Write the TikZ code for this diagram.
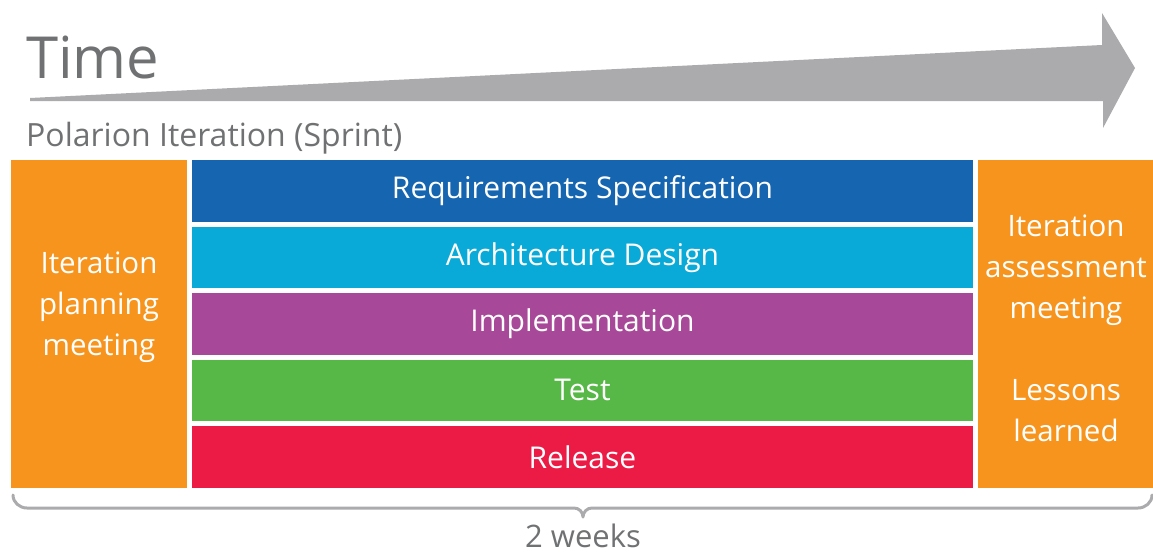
\documentclass[tikz,border=0pt]{standalone}
\usepackage{fontspec}
\setmainfont{Open Sans}
\definecolor{reqblue}{HTML}{1565B0}
\definecolor{archcyan}{HTML}{0AAAD8}
\definecolor{implpurple}{HTML}{A84898}
\definecolor{testgreen}{HTML}{58B847}
\definecolor{relred}{HTML}{EB1B45}
\definecolor{meetorange}{HTML}{F7941D}
\definecolor{arrowgray}{HTML}{ABABAD}
\definecolor{textgray}{HTML}{707173}
\begin{document}
\begin{tikzpicture}[x=1pt,y=-1pt,
  bar/.style={draw=none, inner sep=0pt, minimum width=781pt, minimum height=61.5pt,
    text=white, font=\fontsize{30}{35}\selectfont},
  meetbox/.style={fill=meetorange, draw=none, inner sep=0pt, minimum width=176pt, minimum height=328pt},
  meettext/.style={text=white, align=center, inner sep=0pt, font=\fontsize{29.5}{41}\selectfont},
  graytext/.style={text=textgray, inner sep=0pt, anchor=base west}]
\useasboundingbox (0,0) rectangle (1153,554);
% time arrow
\fill[arrowgray] (30,98) -- (1102,45) -- (1102,13) -- (1135,68) -- (1103,128) -- (1103,101) -- (30,101) -- cycle;
\node[graytext, font=\fontsize{58}{70}\selectfont] (time) at (26,78) {Time};
\node[graytext, font=\fontsize{32}{36}\selectfont] (sprint) at (26,146) {Polarion Iteration (Sprint)};
% boxes
\node[meetbox] (plan) at (99,324) {};
\node[meetbox, minimum width=175pt] (assess) at (1065.5,324) {};
\node[bar, fill=reqblue]    (req)  at (582.5,190.75) {Requirements Specification};
\node[bar, fill=archcyan]   (arch) at (582.5,257.25) {Architecture Design};
\node[bar, fill=implpurple] (impl) at (582.5,323.75) {Implementation};
\node[bar, fill=testgreen]  (test) at (582.5,390.25) {Test};
\node[bar, fill=relred]     (rel)  at (582.5,456.75) {Release};
\node[meettext] (plantext) at (99,307) {Iteration\\planning\\meeting};
\node[meettext] (assesstext) at (1066,328) {Iteration\\assessment\\meeting\\[41pt]Lessons\\learned};
% brace
\coordinate (bl) at (13,495);
\coordinate (bm) at (583,517);
\coordinate (br) at (1152,495);
\draw[arrowgray, line width=3pt, line cap=round, line join=round]
  (bl) to[out=-90,in=180] (27,508) -- (574,508) to[out=0,in=90] (bm)
  to[out=90,in=180] (592,508) -- (1138,508) to[out=0,in=-90] (br);
\node[text=textgray, inner sep=0pt, font=\fontsize{31}{36}\selectfont] (weeks) at (583,535.5) {2 weeks};
\end{tikzpicture}
\end{document}
